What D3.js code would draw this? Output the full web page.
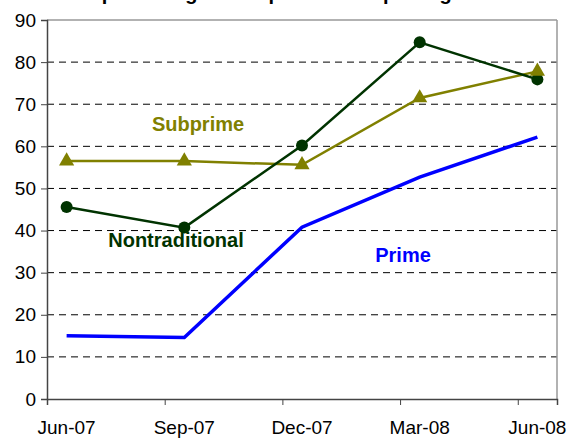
<!DOCTYPE html>
<html><head><meta charset="utf-8">
<script src="https://cdn.jsdelivr.net/npm/d3@7"></script>
<style>body{margin:0;background:#fff}svg{display:block}text{font-family:"Liberation Sans",Arial,sans-serif}</style>
</head><body><svg id="c" width="568" height="438"></svg>
<script>
const categories = ["Jun-07","Sep-07","Dec-07","Mar-08","Jun-08"];
const monthIndex = [0,3,6,9,12];
const subprime = [56.5,56.5,55.6,71.5,77.8];
const nontraditional = [45.6,40.7,60.2,84.7,75.9];
const prime = [15.0,14.6,40.8,52.7,62.2];
const yTicks = [0,10,20,30,40,50,60,70,80,90];
const titleText = "Net percentage of respondents reporting";

const svg = d3.select("#c");
const x = d3.scaleLinear().domain([0,13]).range([47,557]);
const y = d3.scaleLinear().domain([0,90]).range([399,20]);
const px = i => x(monthIndex[i]+0.5);

// title (cut off at the top edge, as in the reference)
svg.append("text").attr("x",64).attr("y",-0.5).attr("font-size",20).attr("font-weight","bold").text(titleText);

// gridlines
svg.append("g").selectAll("line").data(yTicks.filter(t=>t>0&&t<90)).join("line")
  .attr("x1",x(0)).attr("x2",x(13)).attr("y1",d=>y(d)).attr("y2",d=>y(d))
  .attr("stroke","#000").attr("stroke-width",1).attr("stroke-dasharray","7,5");
// top & right border
svg.append("line").attr("x1",x(0)).attr("x2",x(13)).attr("y1",y(90)).attr("y2",y(90)).attr("stroke","#999").attr("stroke-width",1.5);
svg.append("line").attr("x1",x(13)).attr("x2",x(13)).attr("y1",y(90)).attr("y2",y(0)).attr("stroke","#999").attr("stroke-width",1.5);

// y axis
const ya = svg.append("g").attr("transform",`translate(${x(0)},0)`)
  .call(d3.axisLeft(y).tickValues(yTicks).tickSize(6).tickPadding(5));
ya.select(".domain").attr("stroke","#444").attr("stroke-width",1.5);
ya.selectAll(".tick line").attr("stroke","#444");
ya.selectAll("text").attr("font-size",19).attr("fill","#000").attr("font-family","Liberation Sans, Arial, sans-serif");

// x axis
const xa = svg.append("g").attr("transform",`translate(0,${y(0)})`)
  .call(d3.axisBottom(x).tickValues(monthIndex).tickSize(6).tickFormat(""));
xa.select(".domain").attr("stroke","#444").attr("stroke-width",1.5);
xa.selectAll(".tick line").attr("stroke","#444");
svg.append("g").selectAll("text").data(categories).join("text")
  .attr("x",(d,i)=>px(i)).attr("y",y(0)+35).attr("text-anchor","middle")
  .attr("font-size",19).attr("fill","#000").text(d=>d);

const line = d3.line().x((d,i)=>px(i)).y(d=>y(d));

// Prime
svg.append("path").datum(prime).attr("d",line).attr("fill","none").attr("stroke","#0000FF").attr("stroke-width",3.5);
// Subprime
svg.append("path").datum(subprime).attr("d",line).attr("fill","none").attr("stroke","#808000").attr("stroke-width",2.5);
// Nontraditional
svg.append("path").datum(nontraditional).attr("d",line).attr("fill","none").attr("stroke","#003300").attr("stroke-width",2.5);
svg.append("g").selectAll("circle").data(nontraditional).join("circle")
  .attr("cx",(d,i)=>px(i)).attr("cy",d=>y(d)).attr("r",6).attr("fill","#003300");
const tri = d3.symbol().type(d3.symbolTriangle).size(100);
svg.append("g").selectAll("path").data(subprime).join("path")
  .attr("d",tri).attr("transform",(d,i)=>`translate(${px(i)},${y(d)})`).attr("fill","#808000");

// series labels
svg.append("text").attr("x",198).attr("y",131).attr("text-anchor","middle").attr("font-size",20).attr("font-weight","bold").attr("fill","#808000").text("Subprime");
svg.append("text").attr("x",176).attr("y",247).attr("text-anchor","middle").attr("font-size",20).attr("font-weight","bold").attr("fill","#003300").text("Nontraditional");
svg.append("text").attr("x",403).attr("y",262).attr("text-anchor","middle").attr("font-size",20).attr("font-weight","bold").attr("fill","#0000FF").text("Prime");
</script></body></html>
